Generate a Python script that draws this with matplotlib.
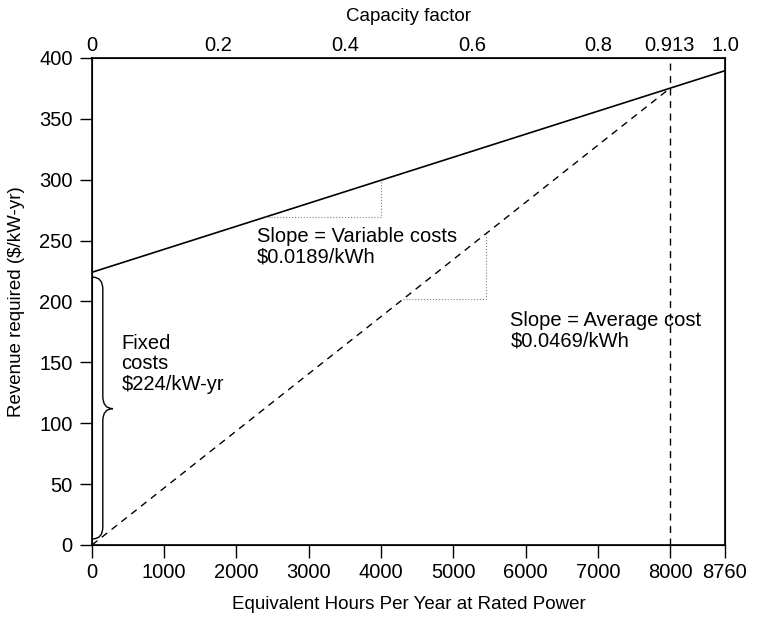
import matplotlib.pyplot as plt
import numpy as np
from matplotlib.path import Path
from matplotlib.patches import PathPatch

plt.rcParams['font.family'] = ['Liberation Sans', 'DejaVu Sans']
plt.rcParams['font.size'] = 14.5

# data
hours_per_year = 8760
fixed_cost = 224          # $/kW-yr
variable_cost = 0.0189    # $/kWh
average_cost = 0.0469     # $/kWh
operating_hours = 8000

x_ticks = [0, 1000, 2000, 3000, 4000, 5000, 6000, 7000, 8000, 8760]
y_ticks = [0, 50, 100, 150, 200, 250, 300, 350, 400]
cf_ticks = [0, 0.2, 0.4, 0.6, 0.8, 0.913, 1.0]
cf_labels = ['0', '0.2', '0.4', '0.6', '0.8', '0.913', '1.0']

fig = plt.figure(figsize=(7.57, 6.17), dpi=100)
ax = fig.add_axes([0.1215, 0.1167, 0.8362, 0.7893])

hrs = np.array([0, hours_per_year])
ax.plot(hrs, fixed_cost + variable_cost * hrs, color='black', lw=1.2)

avg_x = np.array([0, operating_hours])
ax.plot(avg_x, average_cost * avg_x, color='black', lw=1.0, ls=(0, (5, 4)))
ax.axvline(operating_hours, color='black', lw=1.0, ls=(0, (5, 4)))

# slope triangles
x1, x2 = 2400, 4000
y1 = fixed_cost + variable_cost * x1
ax.plot([x1, x2, x2], [y1, y1, fixed_cost + variable_cost * x2],
        color='gray', lw=0.8, ls=':')
x3, x4 = 4300, 5450
y3 = average_cost * x3
ax.plot([x3, x4, x4], [y3, y3, average_cost * x4],
        color='gray', lw=0.8, ls=':')

ann = dict(fontsize=14.5, linespacing=1.1, va='center', ha='left')
ax.text(2280, 245, 'Slope = Variable costs\n$0.0189/kWh', **ann)
ax.text(5790, 176, 'Slope = Average cost\n$0.0469/kWh', **ann)
ax.text(410, 149, 'Fixed\ncosts\n$224/kW-yr', **ann)

# curly brace for fixed costs
bx0, bx1, bx2 = 10, 150, 290
yb0, yb1 = 5, 220
ym = 112
verts = [(bx0, yb1), (bx1, yb1), (bx1, yb1 - 10),
         (bx1, ym + 10), (bx1, ym), (bx2, ym),
         (bx1, ym), (bx1, ym - 10),
         (bx1, yb0 + 10), (bx1, yb0), (bx0, yb0)]
codes = [Path.MOVETO, Path.CURVE3, Path.CURVE3,
         Path.LINETO, Path.CURVE3, Path.CURVE3,
         Path.CURVE3, Path.CURVE3,
         Path.LINETO, Path.CURVE3, Path.CURVE3]
ax.add_patch(PathPatch(Path(verts, codes), fill=False, lw=1.0, color='black'))

ax.set_xlim(0, hours_per_year)
ax.set_ylim(0, 400)
ax.set_xticks(x_ticks)
ax.set_yticks(y_ticks)
ax.tick_params(direction='out', length=9, width=1.0)
ax.tick_params(axis='y', pad=5)
ax.tick_params(axis='x', pad=4)
ax.xaxis.get_major_ticks()[-1].tick1line.set_visible(False)
for s in ax.spines.values():
    s.set_linewidth(1.2)

top = ax.twiny()
top.set_xlim(0, 1)
top.set_xticks(cf_ticks)
top.set_xticklabels(cf_labels)
top.tick_params(length=0, pad=2)
top.set_xlabel('Capacity factor', fontsize=13.5, labelpad=11)

ax.set_xlabel('Equivalent Hours Per Year at Rated Power', fontsize=13.5,
              labelpad=10)
ax.set_ylabel('Revenue required ($/kW-yr)', fontsize=13.5, labelpad=10)

fig.savefig('out.png', dpi=100)
